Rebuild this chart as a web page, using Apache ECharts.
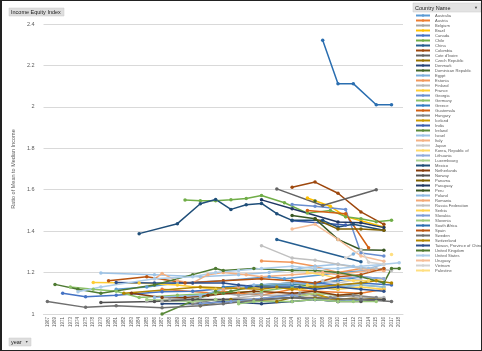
<!DOCTYPE html>
<html>
<head>
<meta charset="utf-8">
<script src="https://cdn.jsdelivr.net/npm/echarts@6/dist/echarts.min.js"></script>
<style>
  html, body { margin: 0; padding: 0; background: #fff; }
  #chart { width: 482px; height: 351px; box-sizing: border-box; border: 1px solid #222; border-left-width: 2px; }
</style>
</head>
<body>
<div id="chart"></div>
<script>
// 横轴年份
var years = [1967, 1969, 1971, 1973, 1974, 1975, 1978, 1979, 1980, 1981, 1982, 1983, 1984, 1985, 1986,
  1987, 1988, 1989, 1990, 1991, 1992, 1993, 1994, 1995, 1996, 1997, 1998, 1999, 2000, 2001, 2002,
  2003, 2004, 2005, 2006, 2007, 2008, 2009, 2010, 2011, 2012, 2013, 2014, 2015, 2016, 2017, 2018];

// 各国数据 [年份, 值]
var australia = [[1981, 1.12], [1985, 1.13], [1989, 1.15], [1995, 1.16], [2001, 1.18], [2003, 1.17], [2008, 1.19], [2010, 1.20], [2014, 1.21], [2016, 1.22]];
var austria = [[1987, 1.12], [1994, 1.10], [1995, 1.11], [1997, 1.10], [2000, 1.09], [2004, 1.12], [2007, 1.11], [2013, 1.10], [2016, 1.12]];
var belgium = [[1985, 1.06], [1988, 1.07], [1992, 1.08], [1995, 1.10], [1997, 1.09], [2000, 1.10]];
var brazil = [[2006, 1.56], [2009, 1.52], [2011, 1.47], [2013, 1.45], [2016, 1.42]];
var canada = [[1971, 1.10], [1975, 1.083], [1981, 1.09], [1987, 1.107], [1991, 1.11], [1994, 1.12], [1997, 1.13], [1998, 1.13], [2000, 1.14], [2004, 1.15], [2007, 1.15], [2010, 1.14], [2013, 1.15], [2017, 1.14]];
var chile = [[1990, 1.55], [1992, 1.547], [1994, 1.547], [1996, 1.551], [1998, 1.558], [2000, 1.572], [2003, 1.537], [2006, 1.487], [2009, 1.50], [2011, 1.47], [2013, 1.46], [2015, 1.445], [2017, 1.452]];
var china = [[2002, 1.36], [2013, 1.252]];
var colombia = [[2004, 1.612], [2007, 1.637], [2010, 1.583], [2013, 1.493], [2016, 1.433]];
var coteDivoire = [[2002, 1.604], [2008, 1.524], [2015, 1.60]];
var czech = [[1992, 1.04], [1996, 1.07], [2002, 1.06], [2004, 1.08], [2007, 1.08], [2010, 1.07], [2013, 1.08], [2016, 1.07]];
var denmark = [[1987, 1.05], [1992, 1.05], [1995, 1.06], [2000, 1.05], [2004, 1.06], [2007, 1.07], [2010, 1.06], [2013, 1.07], [2016, 1.07]];
var dominican = [[2007, 1.545]];
var egypt = [[2012, 1.29]];
var estonia = [[2000, 1.256], [2004, 1.25], [2007, 1.23], [2010, 1.20], [2013, 1.22], [2016, 1.21]];
var finland = [[1987, 1.06], [1991, 1.06], [1995, 1.07], [2000, 1.09], [2004, 1.09], [2007, 1.10], [2010, 1.09], [2013, 1.08], [2016, 1.08]];
var france = [[1978, 1.152], [1984, 1.15], [1989, 1.14], [1994, 1.12], [2000, 1.13], [2005, 1.12], [2010, 1.14]];
var georgia = [[2004, 1.529], [2007, 1.52], [2011, 1.505], [2013, 1.295], [2016, 1.28]];
var germany = [[1973, 1.13], [1978, 1.12], [1981, 1.11], [1984, 1.08], [1989, 1.09], [1994, 1.10], [2000, 1.11], [2004, 1.13], [2007, 1.14], [2010, 1.13], [2013, 1.14], [2016, 1.13]];
var greece = [[1995, 1.13], [2000, 1.14], [2004, 1.14], [2007, 1.15], [2010, 1.16], [2013, 1.18], [2016, 1.17]];
var guatemala = [[2006, 1.50], [2011, 1.484], [2014, 1.32]];
var hungary = [[1991, 1.05], [1994, 1.07], [1999, 1.07], [2005, 1.10], [2007, 1.09], [2009, 1.08], [2012, 1.09], [2015, 1.08]];
var iceland = [[2004, 1.08], [2007, 1.10], [2010, 1.06]];
var india = [[2004, 1.45], [2011, 1.43]];
var ireland = [[1987, 1.00], [1994, 1.11], [1995, 1.10], [1996, 1.11], [2000, 1.14], [2004, 1.15], [2007, 1.13], [2010, 1.12]];
var israel = [[1979, 1.198], [1986, 1.19], [1992, 1.18], [1997, 1.19], [2001, 1.20], [2005, 1.22], [2007, 1.23], [2010, 1.24], [2012, 1.23], [2014, 1.22], [2016, 1.24]];
var italy = [[1986, 1.17], [1987, 1.195], [1989, 1.16], [1991, 1.15], [1993, 1.19], [1995, 1.20], [1998, 1.19], [2000, 1.18], [2004, 1.19], [2008, 1.20], [2010, 1.19], [2014, 1.21], [2016, 1.21]];
var japan = [[2008, 1.16], [2010, 1.15], [2013, 1.17]];
var korea = [[2006, 1.20], [2008, 1.19], [2010, 1.17], [2012, 1.16], [2014, 1.16], [2016, 1.17]];
var lithuania = [[2010, 1.17], [2013, 1.18], [2016, 1.17]];
var luxembourg = [[1985, 1.07], [1991, 1.06], [1994, 1.07], [1997, 1.06], [2000, 1.07], [2004, 1.08], [2007, 1.10], [2010, 1.09], [2013, 1.10]];
var mexico = [[1984, 1.388], [1989, 1.436], [1992, 1.532], [1994, 1.553], [1996, 1.505], [1998, 1.527], [2000, 1.534], [2002, 1.484], [2004, 1.452], [2008, 1.452], [2010, 1.42], [2012, 1.433], [2016, 1.404]];
var netherlands = [[1983, 1.10], [1987, 1.08], [1990, 1.08], [1993, 1.09], [1999, 1.11], [2004, 1.10], [2007, 1.11], [2010, 1.09], [2013, 1.10]];
var norway = [[1979, 1.056], [1986, 1.06], [1991, 1.07], [1995, 1.07], [2000, 1.07], [2004, 1.08], [2007, 1.07], [2010, 1.06], [2013, 1.06], [2016, 1.07]];
var panama = [[2007, 1.46], [2010, 1.41], [2013, 1.41], [2016, 1.404]];
var paraguay = [[2000, 1.551], [2004, 1.508], [2010, 1.444], [2013, 1.44], [2016, 1.417]];
var peru = [[2004, 1.476], [2007, 1.46], [2010, 1.36], [2013, 1.31], [2016, 1.308]];
var poland = [[1986, 1.08], [1992, 1.09], [1995, 1.12], [1999, 1.14], [2004, 1.15], [2007, 1.14], [2010, 1.13], [2013, 1.14], [2016, 1.13]];
var romania = [[1995, 1.12], [1997, 1.13]];
var russia = [[2000, 1.33], [2004, 1.27], [2007, 1.26], [2010, 1.24], [2013, 1.22], [2015, 1.22], [2017, 1.21]];
var serbia = [[2006, 1.14], [2010, 1.12], [2013, 1.13], [2016, 1.12]];
var slovakia = [[1992, 1.05], [1996, 1.06], [2004, 1.09], [2007, 1.07], [2010, 1.06], [2013, 1.07]];
var slovenia = [[1997, 1.05], [1999, 1.06], [2004, 1.06], [2007, 1.07], [2010, 1.06], [2012, 1.06], [2015, 1.06]];
var southAfrica = [[2008, 2.322], [2010, 2.112], [2012, 2.112], [2015, 2.01], [2017, 2.01]];
var spain = [[1980, 1.16], [1985, 1.18], [1990, 1.15], [1995, 1.16], [2000, 1.17], [2004, 1.16], [2007, 1.15], [2010, 1.18], [2013, 1.19], [2016, 1.22]];
var sweden = [[1967, 1.06], [1975, 1.032], [1981, 1.04], [1987, 1.03], [1992, 1.04], [1995, 1.05], [2000, 1.07], [2005, 1.08], [2013, 1.07], [2017, 1.06]];
var switzerland = [[1982, 1.10], [1992, 1.13], [2000, 1.12], [2002, 1.13], [2004, 1.12], [2007, 1.13], [2010, 1.14], [2013, 1.15], [2015, 1.16], [2017, 1.15]];
var taiwan = [[1981, 1.152], [1986, 1.15], [1991, 1.15], [1995, 1.15], [1997, 1.14], [2000, 1.13], [2005, 1.13], [2007, 1.12], [2010, 1.13], [2013, 1.12], [2016, 1.11]];
var uk = [[1969, 1.143], [1974, 1.12], [1979, 1.10], [1986, 1.14], [1991, 1.19], [1994, 1.22], [1995, 1.21], [1999, 1.22], [2004, 1.21], [2007, 1.21], [2010, 1.20], [2013, 1.18], [2016, 1.15], [2017, 1.22], [2018, 1.22]];
var us = [[1974, 1.107], [1979, 1.13], [1986, 1.17], [1991, 1.18], [1994, 1.20], [1997, 1.21], [2000, 1.22], [2004, 1.23], [2007, 1.22], [2010, 1.22], [2013, 1.23], [2016, 1.24], [2018, 1.247]];
var uruguay = [[2004, 1.41], [2007, 1.433], [2010, 1.36], [2013, 1.28], [2016, 1.255]];
var vietnam = [[2011, 1.27], [2013, 1.31], [2014, 1.25], [2016, 1.24]];
var palestine = [[2017, 1.287]];

var countries = ['Australia', 'Austria', 'Belgium', 'Brazil', 'Canada', 'Chile', 'China', 'Colombia',
  "Cote d'Ivoire", 'Czech Republic', 'Denmark', 'Dominican Republic', 'Egypt', 'Estonia', 'Finland',
  'France', 'Georgia', 'Germany', 'Greece', 'Guatemala', 'Hungary', 'Iceland', 'India', 'Ireland',
  'Israel', 'Italy', 'Japan', 'Korea, Republic of', 'Lithuania', 'Luxembourg', 'Mexico', 'Netherlands',
  'Norway', 'Panama', 'Paraguay', 'Peru', 'Poland', 'Romania', 'Russia Federation', 'Serbia', 'Slovakia',
  'Slovenia', 'South Africa', 'Spain', 'Sweden', 'Switzerland', 'Taiwan, Province of China',
  'United Kingdom', 'United States', 'Uruguay', 'Vietnam', 'Palestine'];
var countryData = [australia, austria, belgium, brazil, canada, chile, china, colombia, coteDivoire,
  czech, denmark, dominican, egypt, estonia, finland, france, georgia, germany, greece, guatemala,
  hungary, iceland, india, ireland, israel, italy, japan, korea, lithuania, luxembourg, mexico,
  netherlands, norway, panama, paraguay, peru, poland, romania, russia, serbia, slovakia, slovenia,
  southAfrica, spain, sweden, switzerland, taiwan, uk, us, uruguay, vietnam, palestine];

// Excel 默认配色
var colors = ['#5B9BD5', '#ED7D31', '#A5A5A5', '#FFC000', '#4472C4', '#70AD47',
  '#255E91', '#9E480E', '#636363', '#997300', '#264478', '#43682B',
  '#7CAFDD', '#F1975A', '#B7B7B7', '#FFCD33', '#698ED0', '#8CC168',
  '#327DC2', '#D26012', '#848484', '#CC9A00', '#3A5DAE', '#5A8A39',
  '#9DC3E6', '#F4B183', '#C9C9C9', '#FFD966', '#8FAADC', '#A9D18E',
  '#1F4E79', '#843C0C', '#525252', '#7F6000', '#203864', '#385723',
  '#8DB9E2', '#F3A875', '#C0C0C0', '#FFD34D', '#7C9CD6', '#9BC97B',
  '#2A6EB0', '#B95410', '#6F6F6F', '#B38600', '#2D4F8C', '#4E7A32',
  '#ADCDEA', '#F6BE98', '#D2D2D2', '#FFDF80'];

var series = countries.map(function (name, i) {
  var lookup = {};
  countryData[i].forEach(function (p) { lookup[p[0]] = p[1]; });
  return {
    name: name,
    type: 'line',
    connectNulls: true,
    symbol: 'circle',
    symbolSize: 3.5,
    lineStyle: { width: 1.5 },
    data: years.map(function (y) { return lookup[y] === undefined ? null : lookup[y]; })
  };
});

var myChart = echarts.init(document.getElementById('chart'));
var option = {
  animation: false,
  color: colors,
  grid: { left: 33, right: 78, top: 23, bottom: 36, containLabel: false },
  legend: {
    orient: 'vertical',
    left: 413,
    top: 12,
    itemWidth: 14,
    itemHeight: 3,
    itemGap: 0,
    padding: 0,
    textStyle: { fontSize: 4.1, lineHeight: 5, color: '#595959', fontFamily: "'Liberation Sans Narrow', 'Liberation Sans', sans-serif" },
    data: countries
  },
  xAxis: {
    type: 'category',
    data: years,
    boundaryGap: true,
    axisLine: { lineStyle: { color: '#d9d9d9' } },
    axisTick: { show: false },
    axisLabel: { rotate: 90, fontSize: 4.5, color: '#595959', margin: 3, interval: 0, fontFamily: 'Liberation Sans' }
  },
  yAxis: {
    type: 'value',
    min: 1,
    max: 2.4,
    interval: 0.2,
    name: 'Ratio of Mean to Median Income',
    nameLocation: 'middle',
    nameGap: 17,
    nameTextStyle: { fontSize: 5.5, color: '#595959', fontFamily: 'Liberation Sans' },
    axisLine: { show: false },
    axisTick: { show: false },
    axisLabel: { fontSize: 5.5, color: '#595959', margin: 9, fontFamily: 'Liberation Sans' },
    splitLine: { lineStyle: { color: '#d9d9d9' } }
  },
  graphic: [
    { type: 'rect', shape: { x: 7, y: 7, width: 55, height: 8 }, style: { fill: '#dedede', stroke: '#c8c8c8', lineWidth: 0.5 } },
    { type: 'text', x: 9, y: 8.5, style: { text: 'Income Equity Index', fontSize: 5.5, fill: '#222', fontFamily: 'Liberation Sans' } },
    { type: 'rect', shape: { x: 411, y: 2, width: 68, height: 9 }, style: { fill: '#e3e3e3', stroke: '#c8c8c8', lineWidth: 0.5 } },
    { type: 'text', x: 413, y: 4, style: { text: 'Country Name', fontSize: 5.5, fill: '#222', fontFamily: 'Liberation Sans' } },
    { type: 'text', x: 472, y: 4.5, style: { text: '▼', fontSize: 4, fill: '#444' } },
    { type: 'rect', shape: { x: 7, y: 337, width: 22, height: 8 }, style: { fill: '#dedede', stroke: '#c8c8c8', lineWidth: 0.5 } },
    { type: 'text', x: 9, y: 338.5, style: { text: 'year', fontSize: 5.5, fill: '#222', fontFamily: 'Liberation Sans' } },
    { type: 'text', x: 23, y: 339.5, style: { text: '▼', fontSize: 3.5, fill: '#444' } }
  ],
  series: series
};
myChart.setOption(option);
</script>
</body>
</html>
